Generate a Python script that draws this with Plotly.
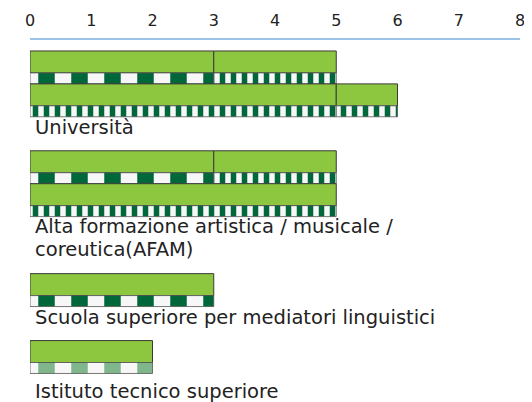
import plotly.graph_objects as go

# percorsi (anni) per ogni tipo di istituzione
groups = ['Università',
          'Alta formazione artistica / musicale /<br>coreutica(AFAM)',
          'Scuola superiore per mediatori linguistici',
          'Istituto tecnico superiore']
# ogni gruppo: lista di percorsi, ogni percorso: lista di durate (anni)
paths = [
    [[3, 2], [5, 1]],
    [[3, 2], [5]],
    [[3]],
    [[2]],
]
# tipo di striscia sotto ogni segmento
stripes = [
    [['wide', 'narrow'], ['narrow', 'narrow']],
    [['wide', 'narrow'], ['narrow']],
    [['wide']],
    [['light']],
]
x_ticks = [0, 1, 2, 3, 4, 5, 6, 7, 8]

# layout: posizione verticale (slot da 11px) dove inizia ogni gruppo
group_top = [1, 10.1, 21.3, 27.4]
label_offset = [1.0, 0.9, 1.0, 1.6]
line_gap = 2.1

green = '#8dc63f'
edge = '#3a3a3a'
stripe_style = {
    'wide': dict(shape='|', fgcolor='#00673a', bgcolor='#f7f7f7', size=33, solidity=0.5, fillmode='replace'),
    'narrow': dict(shape='|', fgcolor='#00673a', bgcolor='#f7f7f7', size=11, solidity=0.5, fillmode='replace'),
    'light': dict(shape='|', fgcolor='#80b68c', bgcolor='#f7f7f7', size=33, solidity=0.5, fillmode='replace'),
}

fig = go.Figure()
annotations = []

for g, name in enumerate(groups):
    top = group_top[g]
    for p, durations in enumerate(paths[g]):
        row_top = top + 3 * p
        start = 0
        for d, kind in zip(durations, stripes[g][p]):
            # barra verde
            fig.add_trace(go.Bar(
                x=[d], base=[start], y=[row_top + 1], width=[2],
                orientation='h',
                marker=dict(color=green, line=dict(color=edge, width=1)),
                showlegend=False, hoverinfo='skip',
            ))
            # striscia
            fig.add_trace(go.Bar(
                x=[d], base=[start], y=[row_top + 2.5], width=[1],
                orientation='h',
                marker=dict(color='#f7f7f7', line=dict(color='#555555', width=0.8),
                            pattern=stripe_style[kind]),
                showlegend=False, hoverinfo='skip',
            ))
            start += d
    label_y = top + 3 * len(paths[g]) + label_offset[g]
    for i, line in enumerate(name.split('<br>')):
        annotations.append(dict(
            x=0, y=label_y + i * line_gap, xref='x', yref='y',
            xanchor='left', yanchor='middle', xshift=3,
            text=line, showarrow=False, align='left',
            font=dict(family='DejaVu Sans', size=19.5, color='#222222'),
        ))

# la pagina html ha 8px di margine nel body: figura un po' più piccola
fig.update_layout(
    width=524, height=394,
    margin=dict(l=22, r=12, t=32, b=0),
    paper_bgcolor='white', plot_bgcolor='white',
    barmode='overlay',
    annotations=annotations,
    xaxis=dict(
        range=[0, 8], side='top', tickvals=x_ticks,
        showgrid=False, zeroline=False, automargin=False,
        showline=True, linecolor='#9dc3e6', linewidth=2,
        ticks='', ticklabelstandoff=6,
        tickfont=dict(family='DejaVu Sans', size=16, color='#222222'),
    ),
    yaxis=dict(
        range=[33, 0], showgrid=False, zeroline=False, automargin=False,
        showticklabels=False, showline=False,
    ),
)

fig.write_html('out.html')
